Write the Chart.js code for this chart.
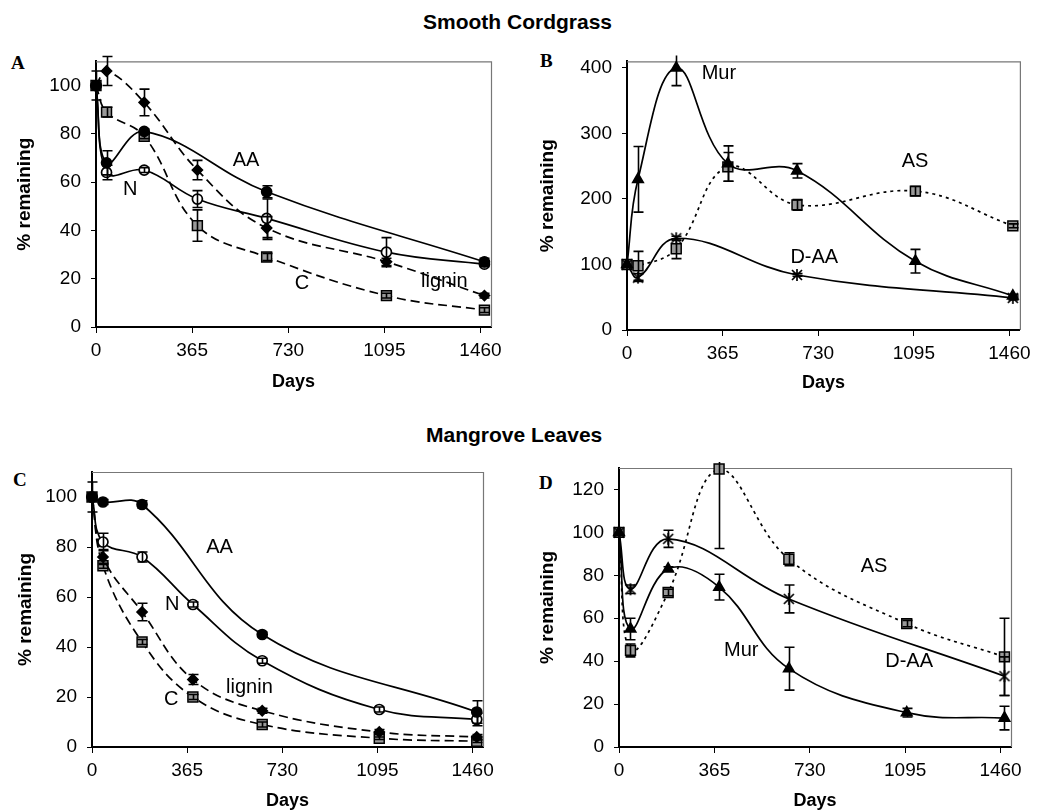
<!DOCTYPE html>
<html><head><meta charset="utf-8">
<script src="https://cdn.jsdelivr.net/npm/chart.js@4.4.1/dist/chart.umd.min.js"></script>
<style>
html,body{margin:0;padding:0;background:#fff;}
#wrap{position:relative;width:1037px;height:812px;background:#fff;overflow:hidden;}
canvas{position:absolute;}
.ttl{position:absolute;font:bold 21px "Liberation Sans",Arial,sans-serif;color:#000;white-space:nowrap;line-height:21px;}
.let{position:absolute;font:bold 19px "Liberation Serif","Times New Roman",serif;color:#000;line-height:19px;}
</style></head><body>
<div id="wrap">
<div class="ttl" style="left:423px;top:11px">Smooth Cordgrass</div>
<div class="ttl" style="left:426px;top:424px">Mangrove Leaves</div>
<div class="let" style="left:11px;top:53px">A</div>
<div class="let" style="left:540px;top:51px">B</div>
<div class="let" style="left:13px;top:470px">C</div>
<div class="let" style="left:539px;top:473px">D</div>
<canvas id="cA" width="511" height="353" style="left:0;top:40px"></canvas>
<canvas id="cB" width="522" height="354" style="left:515px;top:40px"></canvas>
<canvas id="cC" width="503" height="372" style="left:0;top:440px"></canvas>
<canvas id="cD" width="516" height="372" style="left:515px;top:440px"></canvas>
</div>
<script>
// ---- tick labels ----
const xTickValues = [0, 365, 730, 1095, 1460];
const yTicksPct = [0, 20, 40, 60, 80, 100];
const yTicksB = [0, 100, 200, 300, 400];
const yTicksD = [0, 20, 40, 60, 80, 100, 120];

// ---- Panel A: Smooth Cordgrass ----
const daysA = [0, 40, 183, 385, 648, 1103, 1475];
const A_AA = [100, 68, 81, null, 56, null, 27];
const A_AA_err = [0, 5, 1, null, 2.5, null, 1.5];
const A_N = [100, 64, 65, 53, 45, 31, 26];
const A_N_err = [0, 3, 1, 3.5, 8, 6, 1];
const A_lignin = [100, 106, 93, 65, 41, 27, 13];
const A_lignin_err = [6, 6, 5.5, 4, 4.7, 1.5, 1];
const A_C = [100, 89, 79, 42, 29, 13, 7];
const A_C_err = [0, 2, 1, 6.5, 1.5, 1, 1];

// ---- Panel B: Smooth Cordgrass ----
const daysB = [0, 42, 188, 385, 649, 1101, 1473];
const B_Mur = [100, 230, 400, 254, 243, 105, 52];
const B_Mur_err = [0, 50, 27, 27, 11, 18, 2];
const B_AS = [100, 98, 124, 249, 191, 212, 159];
const B_AS_err = [0, 22, 15, 22, 8, 7, 3];
const B_DAA = [100, 80, 140, null, 84, null, 49];
const B_DAA_err = [0, 6, 3, null, 2, null, 3];

// ---- Panel C: Mangrove Leaves ----
const daysC = [0, 42, 192, 387, 653, 1102, 1476];
const C_AA = [100, 98, 97, null, 45, null, 14];
const C_AA_err = [6, 1, 1.5, null, 1, null, 4.5];
const C_N = [100, 82, 76, 57, 34.5, 15, 11];
const C_N_err = [0, 3.5, 2, 1, 1, 1, 2.5];
const C_lignin = [100, 76, 54, 27, 14.5, 6, 4];
const C_lignin_err = [0, 3, 3.5, 2, 1, 1, 1];
const C_C = [100, 72.5, 42, 20, 9, 3.5, 2.3];
const C_C_err = [0, 1, 1, 1, 1, 0.5, 0.5];

// ---- Panel D: Mangrove Leaves ----
const daysD = [0, 44, 188, 383, 650, 1101, 1475];
const D_DAA = [100, 73.5, 97, null, 69, null, 33];
const D_DAA_err = [0, 2, 4, null, 6.5, null, 9];
const D_Mur = [100, 55, 83, 74.5, 36.5, 16, 13.5];
const D_Mur_err = [0, 5, 1, 6, 10, 2, 5.5];
const D_AS = [100, 45, 72, 129.5, 87.5, 57.5, 42];
const D_AS_err = [0, 3, 1.5, 37, 3, 1.5, 18];

Chart.defaults.font.family = '"Liberation Sans", Arial, sans-serif';
Chart.defaults.font.size = 19;
Chart.defaults.color = '#000';
Chart.defaults.animation = false;

// asterisk marker
function asterisk(){
  const c = document.createElement('canvas'); c.width = 14; c.height = 14;
  const g = c.getContext('2d'); g.strokeStyle = '#000'; g.lineWidth = 1.7;
  g.beginPath(); g.moveTo(2,2); g.lineTo(12,12); g.moveTo(12,2); g.lineTo(2,12);
  g.moveTo(7,1); g.lineTo(7,13); g.stroke(); return c;
}
const starImg = asterisk();

function pts(days, vals, errs){
  const d = [], e = [];
  days.forEach((x,i)=>{ if(vals[i]!==null){ d.push({x:x, y:vals[i]}); e.push(errs[i]); } });
  return {data:d, errors:e};
}
const styles = {
  AA:{pointStyle:'circle', pointRadius:5, pointBackgroundColor:'#000', pointBorderColor:'#000', borderDash:[]},
  N:{pointStyle:'circle', pointRadius:5, pointBackgroundColor:'#fff', pointBorderColor:'#000', pointBorderWidth:1.7, borderDash:[]},
  lignin:{pointStyle:'rectRot', pointRadius:5, pointBackgroundColor:'#000', pointBorderColor:'#000', borderDash:[9,5]},
  C:{pointStyle:'rect', pointRadius:7, pointBackgroundColor:'#999', pointBorderColor:'#000', pointBorderWidth:1.5, borderDash:[9,5]},
  Mur:{pointStyle:'triangle', pointRadius:6, pointBackgroundColor:'#000', pointBorderColor:'#000', borderDash:[]},
  AS:{pointStyle:'rect', pointRadius:7, pointBackgroundColor:'#999', pointBorderColor:'#000', pointBorderWidth:1.5, borderDash:[3,4]},
  DAA:{pointStyle:starImg, pointRadius:6, borderDash:[]}
};
function ds(kind, days, vals, errs){
  const p = pts(days, vals, errs);
  return Object.assign({data:p.data, errors:p.errors, borderColor:'#000', borderWidth:1.7,
    tension:0.4, fill:false, clip:false}, styles[kind]);
}

const errorBars = {
  id:'errorBars',
  afterDatasetsDraw(chart){
    const ctx = chart.ctx, x = chart.scales.x, y = chart.scales.y;
    ctx.save(); ctx.strokeStyle = '#000'; ctx.lineWidth = 1.6; ctx.setLineDash([]);
    chart.data.datasets.forEach(d=>{
      if(!d.errors) return;
      d.data.forEach((p,j)=>{
        const e = d.errors[j]; if(!e) return;
        const px = Math.round(x.getPixelForValue(p.x))+0.5;
        const yTop = y.getPixelForValue(p.y+e);
        const y1 = Math.max(yTop, y.top-6), y2 = y.getPixelForValue(p.y-e);
        ctx.beginPath(); ctx.moveTo(px,y1); ctx.lineTo(px,y2);
        if(yTop >= y.top-6){ ctx.moveTo(px-5,y1); ctx.lineTo(px+5,y1); }
        ctx.moveTo(px-5,y2); ctx.lineTo(px+5,y2); ctx.stroke();
      });
    });
    ctx.restore();
  }
};
const frame = {
  id:'frame',
  beforeDatasetsDraw(chart){
    const a = chart.chartArea, ctx = chart.ctx;
    ctx.save(); ctx.strokeStyle = '#777'; ctx.lineWidth = 1.2;
    ctx.beginPath(); ctx.moveTo(a.left, a.top+0.5); ctx.lineTo(a.right+0.5, a.top+0.5); ctx.lineTo(a.right+0.5, a.bottom); ctx.stroke();
    ctx.restore();
  }
};
const textLabels = {
  id:'textLabels',
  afterDatasetsDraw(chart, args, opts){
    const ctx = chart.ctx, x = chart.scales.x, y = chart.scales.y;
    ctx.save(); ctx.font = '20px "Liberation Sans", Arial, sans-serif'; ctx.fillStyle = '#000';
    ctx.textAlign = 'center'; ctx.textBaseline = 'middle';
    (opts.items||[]).forEach(t=> ctx.fillText(t.text, x.getPixelForValue(t.x), y.getPixelForValue(t.y)));
    ctx.restore();
  }
};

function makeChart(id, datasets, yMax, yTicks, pad, yWidth, xHeight, labels){
  new Chart(document.getElementById(id), {
    type:'line',
    data:{datasets:datasets},
    plugins:[frame, errorBars, textLabels],
    options:{
      responsive:false, animation:false,
      layout:{padding:pad},
      plugins:{legend:{display:false}, tooltip:{enabled:false}, textLabels:{items:labels}},
      scales:{
        x:{type:'linear', min:0, max:1500,
          afterBuildTicks(s){ s.ticks = xTickValues.map(v=>({value:v})); },
          afterFit(s){ s.height = xHeight; },
          grid:{drawOnChartArea:false, drawTicks:true, tickLength:6, color:'#000', lineWidth:1},
          border:{display:true, color:'#000', width:2},
          ticks:{padding:6, maxRotation:0, autoSkip:false, callback:v=>String(v)},
          title:{display:true, text:'Days', font:{size:18, weight:'bold'}, padding:0}
        },
        y:{type:'linear', min:0, max:yMax,
          afterBuildTicks(s){ s.ticks = yTicks.map(v=>({value:v})); },
          afterFit(s){ s.width = yWidth; },
          grid:{drawOnChartArea:false, drawTicks:true, tickLength:5, color:'#000', lineWidth:1},
          border:{display:true, color:'#000', width:2},
          ticks:{padding:10, autoSkip:false, callback:v=>String(v)},
          title:{display:true, text:'% remaining', font:{size:19, weight:'bold'}, padding:0}
        }
      }
    }
  });
}

makeChart('cA', [
  ds('AA', daysA, A_AA, A_AA_err),
  ds('N', daysA, A_N, A_N_err),
  ds('lignin', daysA, A_lignin, A_lignin_err),
  ds('C', daysA, A_C, A_C_err)
], 110, yTicksPct, {left:13, right:20, top:15, bottom:0}, 83, 66,
 [{text:'AA', x:570, y:69}, {text:'N', x:130, y:57}, {text:'lignin', x:1323, y:19}, {text:'C', x:782, y:18}]);

makeChart('cB', [
  ds('Mur', daysB, B_Mur, B_Mur_err),
  ds('DAA', daysB, B_DAA, B_DAA_err),
  ds('AS', daysB, B_AS, B_AS_err)
], 410, yTicksB, {left:21, right:17, top:13, bottom:0}, 91, 64,
 [{text:'Mur', x:351, y:391}, {text:'AS', x:1100, y:257}, {text:'D-AA', x:715, y:111}]);

makeChart('cC', [
  ds('AA', daysC, C_AA, C_AA_err),
  ds('N', daysC, C_N, C_N_err),
  ds('lignin', daysC, C_lignin, C_lignin_err),
  ds('C', daysC, C_C, C_C_err)
], 110, yTicksPct, {left:14, right:20, top:32, bottom:0}, 78, 65,
 [{text:'AA', x:489, y:80}, {text:'N', x:308, y:57}, {text:'lignin', x:604, y:24}, {text:'C', x:304, y:19}]);

makeChart('cD', [
  ds('DAA', daysD, D_DAA, D_DAA_err),
  ds('Mur', daysD, D_Mur, D_Mur_err),
  ds('AS', daysD, D_AS, D_AS_err)
], 130, yTicksD, {left:21, right:20, top:28, bottom:0}, 83, 65,
 [{text:'AS', x:976, y:84}, {text:'Mur', x:468, y:45}, {text:'D-AA', x:1110, y:40}]);
</script>
</body></html>
